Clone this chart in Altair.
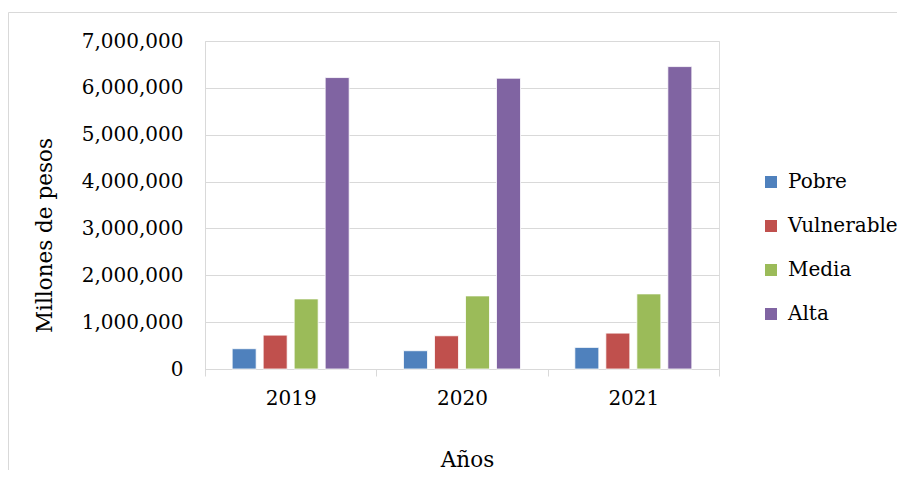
import altair as alt
import pandas as pd

years = ["2019", "2020", "2021"]
groups = ["Pobre", "Vulnerable", "Media", "Alta"]
pobre = [433000, 390000, 461000]
vulnerable = [723000, 709000, 766000]
media = [1496000, 1560000, 1603000]
alta = [6220000, 6206000, 6454000]
colors = ["#4F81BD", "#C0504D", "#9BBB59", "#8064A2"]
y_ticks = [0, 1000000, 2000000, 3000000, 4000000, 5000000, 6000000, 7000000]

rows = []
for g, vals in zip(groups, [pobre, vulnerable, media, alta]):
    for yr, v in zip(years, vals):
        rows.append({"Año": yr, "Grupo": g, "Valor": v})
df = pd.DataFrame(rows)

FONT = "DejaVu Serif"
GRAY = "#d9d9d9"
W, H = 514, 328

bars = alt.Chart(df).mark_bar(stroke="white", strokeWidth=0.8).encode(
    x=alt.X(
        "Año:N", sort=years,
        scale=alt.Scale(paddingInner=0, paddingOuter=0),
        axis=alt.Axis(
            title="Años", labelAngle=0, tickBand="extent", ticks=True, tickSize=7,
            tickColor=GRAY, domainColor=GRAY, labelPadding=12,
            labelFont=FONT, labelFontSize=20, labelColor="black",
            titleFont=FONT, titleFontSize=21.5, titleFontWeight="normal", titleColor="black",
            titleX=262, titleY=91, titleBaseline="middle", titleAlign="center",
        ),
    ),
    xOffset=alt.XOffset("Grupo:N", sort=groups,
                        scale=alt.Scale(paddingInner=0.226, paddingOuter=0.876)),
    y=alt.Y(
        "Valor:Q",
        scale=alt.Scale(domain=[0, 7000000]),
        axis=alt.Axis(
            values=y_ticks, format=",d", title="Millones de pesos", ticks=False,
            domainColor=GRAY, gridColor=GRAY, labelPadding=22,
            labelFont=FONT, labelFontSize=20, labelColor="black",
            titleFont=FONT, titleFontSize=21.5, titleFontWeight="normal", titleColor="black",
            titleX=-160, titleY=194, titleAngle=270, titleBaseline="middle", titleAlign="center",
        ),
    ),
    color=alt.Color(
        "Grupo:N", sort=groups,
        scale=alt.Scale(domain=groups, range=colors),
        legend=alt.Legend(
            title=None, orient="none", legendX=556, legendY=131,
            symbolType="square", symbolSize=144, symbolStrokeWidth=0,
            labelFont=FONT, labelFontSize=20, labelColor="black", labelOffset=7,
            rowPadding=24, labelLimit=300,
        ),
    ),
)

frame = alt.Chart(pd.DataFrame({"a": [0]})).mark_rect(
    fillOpacity=0, stroke=GRAY, strokeWidth=1, clip=False
).encode(
    x=alt.value(-196.5), x2=alt.value(W + 400),
    y=alt.value(-28.5), y2=alt.value(H + 300),
)

chart = alt.layer(frame, bars).properties(
    width=W, height=H,
    autosize=alt.AutoSizeParams(type="none"),
    padding={"left": 197, "top": 33, "right": 178, "bottom": 101},
).configure_view(stroke=None).configure(background="white")

chart.save("out.html", embed_options={"renderer": "svg", "actions": False})
